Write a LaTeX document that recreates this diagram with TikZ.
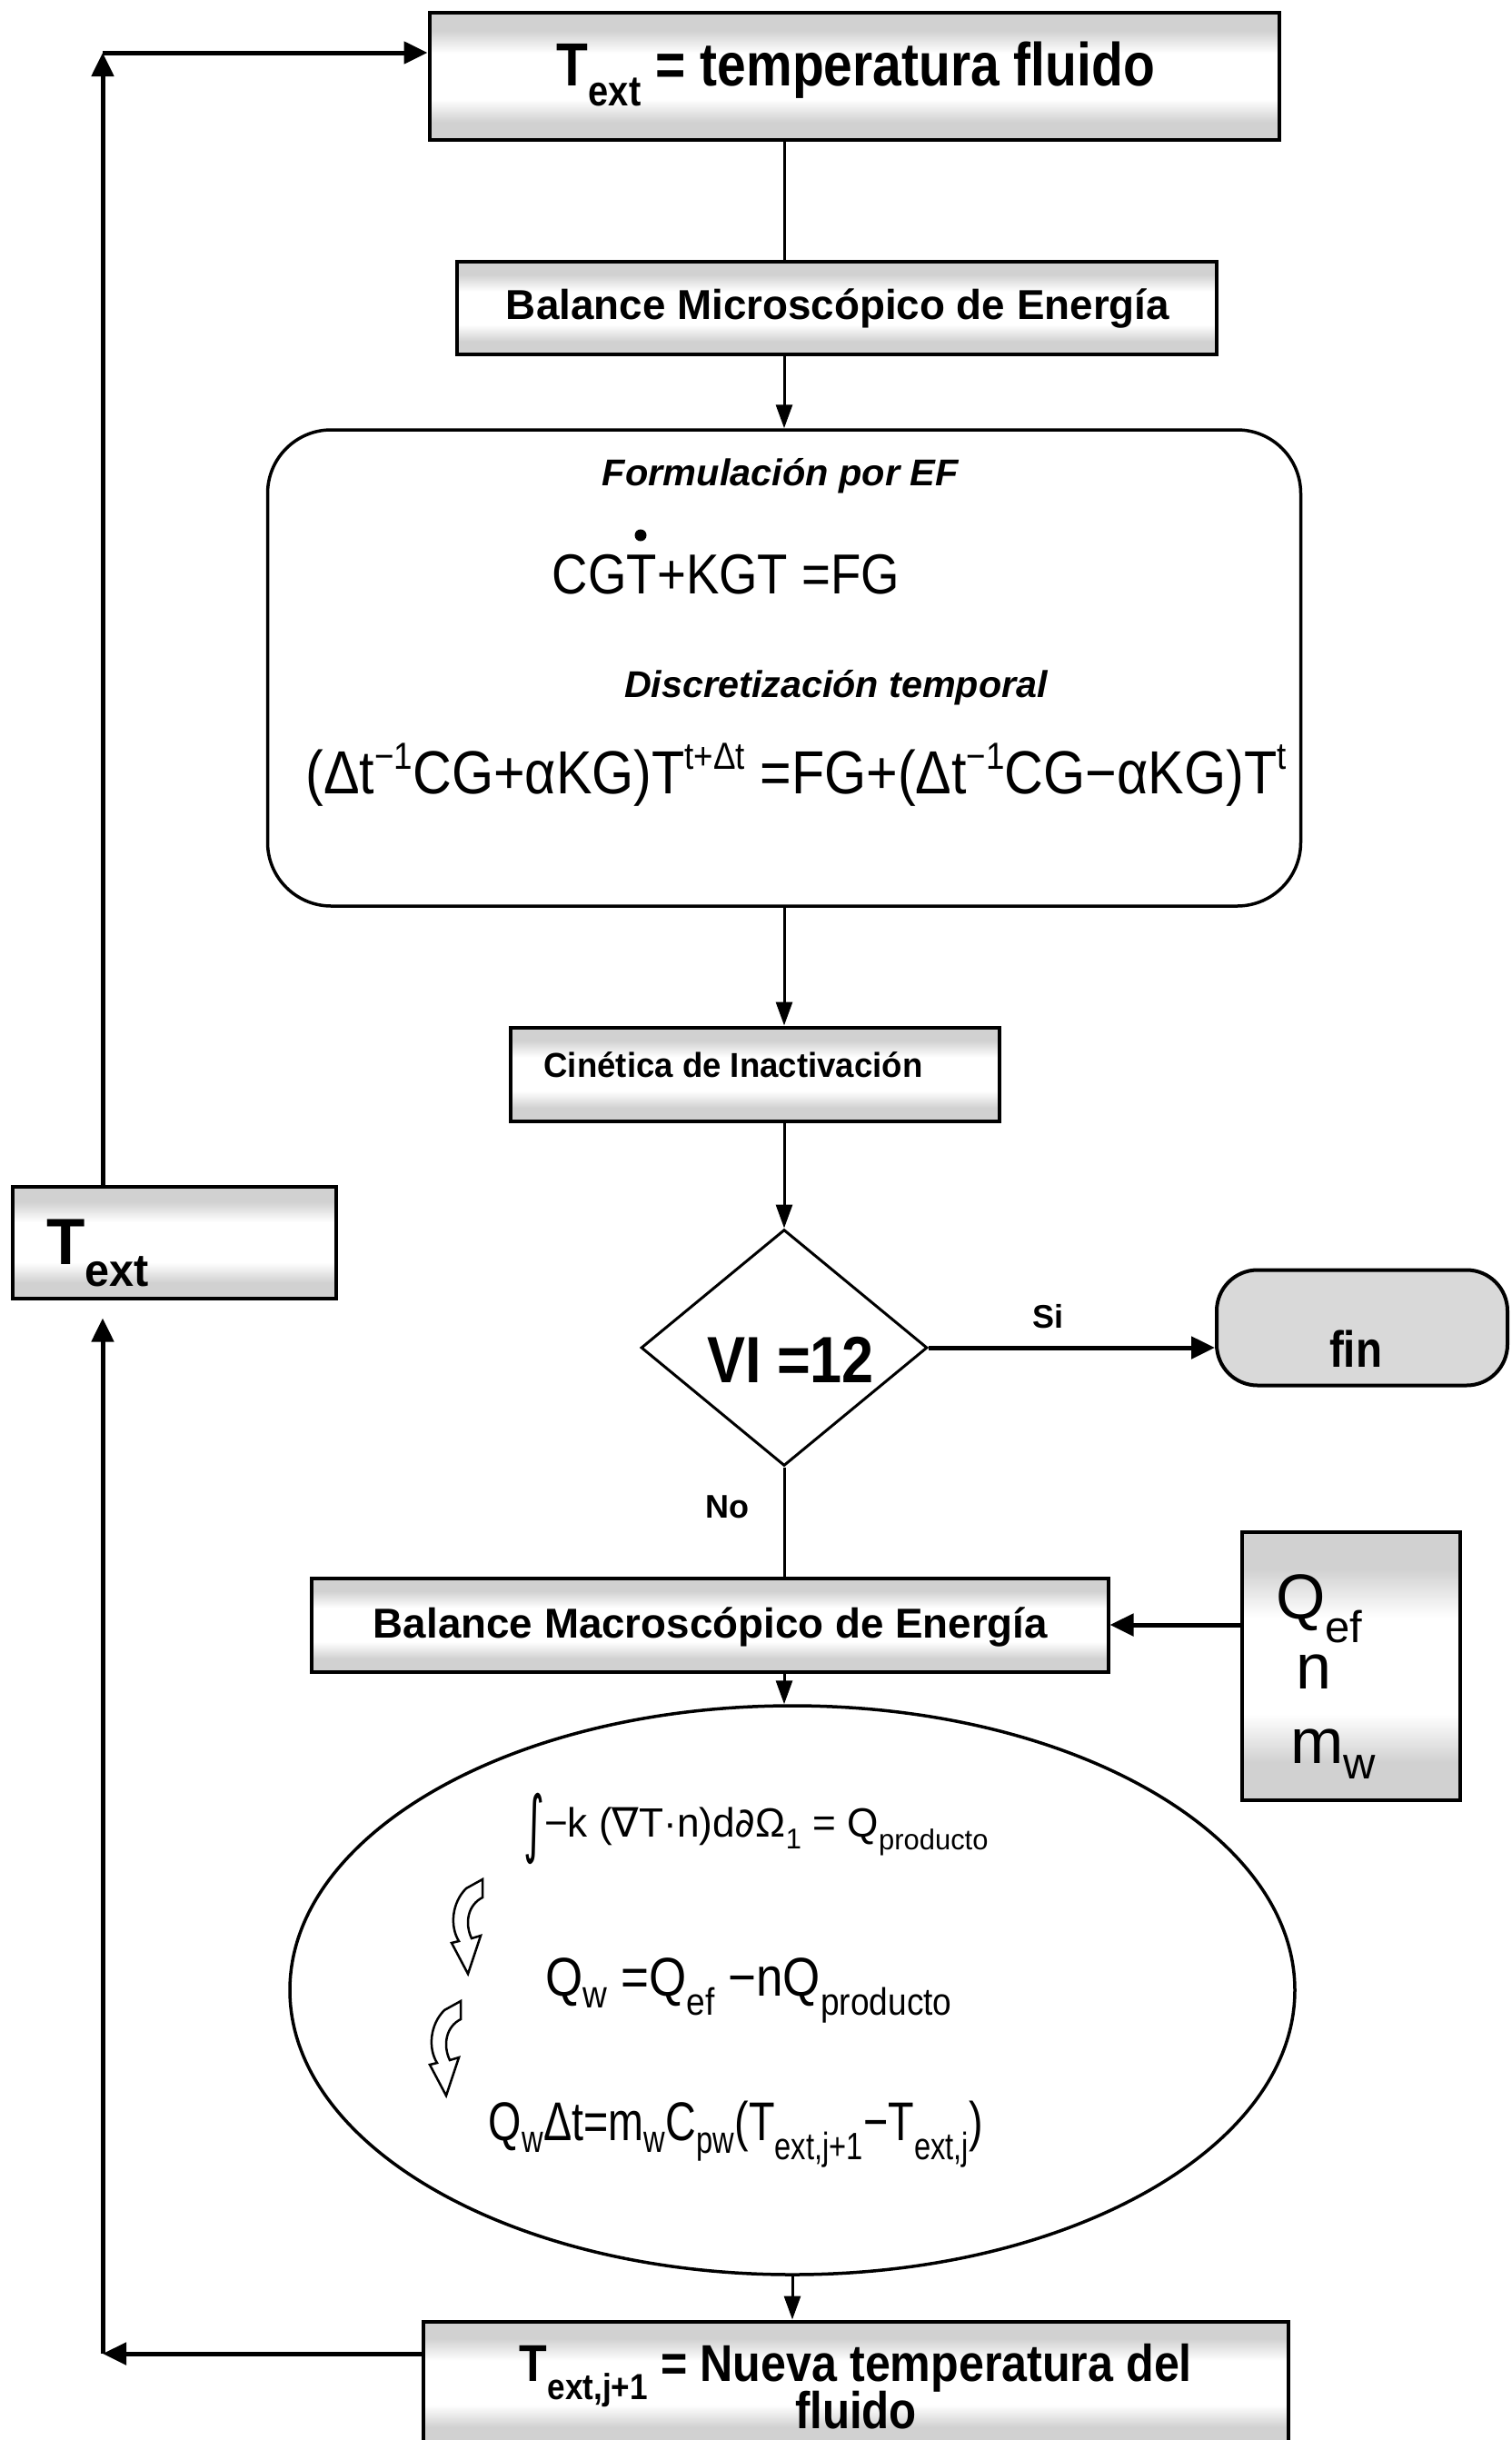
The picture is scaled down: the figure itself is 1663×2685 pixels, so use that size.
\documentclass[tikz,border=0pt]{standalone}
\usepackage{amsmath}
\usepackage{fontspec}
\setmainfont{Liberation Sans}
\newfontfamily\djv{DejaVu Sans}
\usetikzlibrary{shapes.geometric,arrows.meta,calc}
\pgfdeclareverticalshading{bands}{100bp}{color(0bp)=(black!18); color(25bp)=(black!18); color(32bp)=(black!18); color(41bp)=(white); color(59bp)=(white); color(68bp)=(black!18); color(75bp)=(black!18); color(100bp)=(black!18)}
\newcommand\fs[1]{\fontsize{#1}{#1}\selectfont}
\newcommand\sbx[1]{\ensuremath{_{\text{#1}}}}
\newcommand\spx[1]{\raisebox{0.4em}{\scalebox{0.62}{#1}}}
\newcommand\W[2]{\resizebox{#1}{\height}{#2}}
\begin{document}
\begin{tikzpicture}[x=1pt,y=-1pt,
  box/.style={draw, line width=4pt, shading=bands, inner sep=0pt},
  ln/.style={line width=3pt},
  arr/.style={line width=3pt, -{Triangle[length=26pt,width=18pt]}},
  tarr/.style={line width=5pt, -{Triangle[length=26pt,width=24pt]}},
  txt/.style={anchor=base, inner sep=0pt},
  curvarr/.pic={\draw[line width=2.5pt, fill=white] (16,10) .. controls (0,26) and (-2,52) .. (8,68) -- (0,70) -- (18,104) -- (32,62) -- (22,65) .. controls (14,48) and (18,28) .. (34,20) -- (34,0) -- cycle;}]
\useasboundingbox (0,0) rectangle (1663,2685);
% shapes
\node[box, minimum width=935pt, minimum height=140pt] (top) at (940,84) {};
\node[box, minimum width=836pt, minimum height=102pt] (micro) at (921,339) {};
\node[draw, line width=3.5pt, rounded corners=70pt, minimum width=1137pt, minimum height=524pt] (form) at (863,735) {};
\node[box, minimum width=538pt, minimum height=103pt] (cin) at (831,1182) {};
\node[diamond, draw, line width=3pt, minimum width=315pt, minimum height=260pt, inner sep=0pt] (dia) at (863,1483) {};
\node[draw, line width=4pt, fill=black!15, rounded corners=45pt, minimum width=320pt, minimum height=127pt] (fin) at (1499,1461) {};
\node[box, minimum width=356pt, minimum height=123pt] (lt) at (192,1367) {};
\node[box, minimum width=877pt, minimum height=103pt] (macro) at (781,1788) {};
\node[box, minimum width=240pt, minimum height=295pt] (qb) at (1487,1833) {};
\node[ellipse, draw, line width=3.5pt, minimum width=1106pt, minimum height=626pt, inner sep=0pt] (ell) at (872,2190) {};
\node[box, minimum width=952pt, minimum height=135pt] (bot) at (942,2622) {};
% texts
\node[txt, font=\bfseries\fs{67pt}] (t1) at (942,94) {\W{658pt}{T\sbx{ext} = temperatura fluido}};
\node[txt, font=\bfseries\fs{46pt}] (t2) at (922,351) {\W{730pt}{Balance Microscópico de Energía}};
\node[txt, font=\bfseries\itshape\fs{41pt}] (t3) at (859,534) {\W{392pt}{Formulación por EF}};
\node[txt, font=\fs{62pt}] (t4) at (799,653) {\W{382pt}{CGT+KGT =FG}};
\fill (705,589) circle (6.5pt);
\node[txt, font=\bfseries\itshape\fs{41pt}] (t5) at (920,767) {\W{466pt}{Discretización temporal}};
\node[txt, font=\fs{67pt}] (t6) at (876,873) {\W{1079pt}{(Δt\spx{−1}CG+αKG)T\spx{t+Δt} =FG+(Δt\spx{−1}CG−αKG)T\spx{t}}};
\node[txt, font=\bfseries\fs{38pt}] (t7) at (807,1185) {\W{417pt}{Cinética de Inactivación}};
\node[txt, font=\bfseries\fs{72pt}] (t8) at (870,1521) {\W{184pt}{VI =12}};
\node[txt, font=\bfseries\fs{36pt}] (si) at (1153,1461) {Si};
\node[txt, font=\bfseries\fs{56pt}] (t9) at (1492,1504) {\W{58pt}{fin}};
\node[txt, font=\bfseries\fs{36pt}] (no) at (800,1670) {No};
\node[txt, anchor=base west, font=\bfseries\fs{72pt}] (t10) at (51,1391) {\W{113pt}{T\sbx{ext}}};
\node[txt, font=\bfseries\fs{46pt}] (t11) at (782,1802) {\W{742pt}{Balance Macroscópico de Energía}};
\node[txt, anchor=base west, font=\fs{70pt}] (q1) at (1404,1781) {Q\sbx{ef}};
\node[txt, font=\fs{70pt}] (q2) at (1446,1858) {n};
\node[txt, anchor=base west, font=\fs{70pt}] (q3) at (1420,1940) {m\sbx{w}};
\node[txt, font=\fs{45pt}] (e1) at (832,2021) {\W{512pt}{\raisebox{-0.3em}{\scalebox{1}[1.8]{\djv ∫}}−k ({\djv ∇}T·n)d{\djv ∂}Ω\sbx{1} = Q\sbx{producto}}};
\node[txt, font=\fs{60pt}] (e2) at (824,2196) {\W{448pt}{Q\sbx{w} =Q\sbx{ef} −nQ\sbx{producto}}};
\node[txt, font=\fs{60pt}] (e3) at (810,2355) {\W{544pt}{Q\sbx{w}Δt=m\sbx{w}C\sbx{pw}(T\sbx{ext,j+1}−T\sbx{ext,j})}};
\node[txt, font=\bfseries\fs{57pt}] (b1) at (942,2620) {\W{740pt}{T\sbx{ext,j+1} = Nueva temperatura del}};
\node[txt, font=\bfseries\fs{57pt}] (b2) at (942,2672) {\W{134pt}{fluido}};
\pic at (497,2068) {curvarr};
\pic at (473,2202) {curvarr};
% connectors
\coordinate (c1) at (113,58);
\coordinate (c2) at (113,2590);
\draw[ln] (top.south -| form.north) -- (micro.north -| form.north);
\draw[arr] (micro.south -| form.north) -- (form.north);
\draw[arr] (form.south) -- (cin.north -| form.south);
\draw[arr] (cin.south -| dia.north) -- (dia.north);
\draw[tarr] (dia.east) -- (dia.east -| fin.west);
\draw[ln] (dia.south) -- (macro.north -| dia.south);
\draw[tarr] (qb.west |- macro.east) -- (macro.east);
\draw[arr] (macro.south -| dia.south) -- (ell.north -| dia.south);
\draw[arr] (ell.south) -- (ell.south |- bot.north);
\draw[tarr] (lt.north -| c1) -- (c1);
\draw[tarr] (c1) -- (c1 -| top.west);
\draw[tarr] (bot.west |- c2) -- (c2);
\draw[tarr, shorten >=20pt] (c2) -- (lt.south -| c2);
\end{tikzpicture}
\end{document}
